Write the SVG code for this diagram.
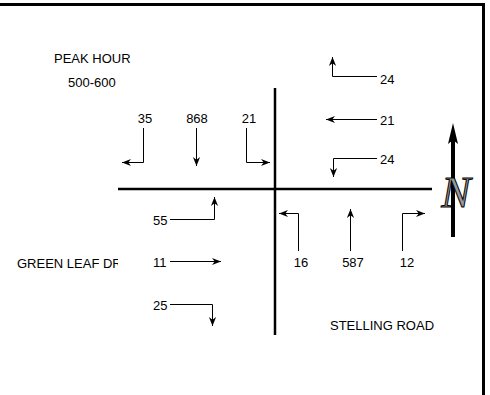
<svg xmlns="http://www.w3.org/2000/svg" width="490" height="395" viewBox="0 0 490 395">
<style>
text{font-family:"Liberation Sans",Arial,sans-serif;font-size:13px;fill:#000}
.m{text-anchor:middle}
.road{stroke:#000;stroke-width:2.5;fill:none}
.arr{stroke:#000;stroke-width:1;fill:none;marker-end:url(#ah)}
</style>
<defs>
<marker id="ah" viewBox="0 0 10 10" refX="10" refY="5" markerWidth="9" markerHeight="9" markerUnits="userSpaceOnUse" orient="auto">
<path d="M0,1 L10,5 L0,9 L3,5 z" fill="#000"/>
</marker>
<clipPath id="clipL"><rect x="0" y="240" width="118" height="40"/></clipPath>
</defs>
<rect width="490" height="395" fill="#fff"/>
<g id="frame">
<path d="M0,4.5 H483.5 V395" fill="none" stroke="#000" stroke-width="3"/>
</g>
<g id="title">
<text x="54" y="63">PEAK HOUR</text>
<text x="68" y="87">500-600</text>
</g>
<g id="roads">
<line class="road" x1="118" y1="189" x2="432" y2="189"/>
<line class="road" x1="275" y1="88" x2="275" y2="335"/>
</g>
<g id="labels">
<text x="17" y="268" clip-path="url(#clipL)">GREEN LEAF DR</text>
<text x="330" y="330">STELLING ROAD</text>
</g>
<g id="connectors">
<!-- southbound -->
<path class="arr" d="M143.5,128 V162.5 H122"/>
<path class="arr" d="M196.5,128 V166"/>
<path class="arr" d="M246.5,128 V162.5 H270"/>
<!-- westbound -->
<path class="arr" d="M377,76.5 H332.5 V57"/>
<path class="arr" d="M377,119.5 H326"/>
<path class="arr" d="M377,158.5 H333.5 V177"/>
<!-- eastbound -->
<path class="arr" d="M170,219.5 H214.5 V197"/>
<path class="arr" d="M170,261.5 H221"/>
<path class="arr" d="M170,304.5 H212.5 V326"/>
<!-- northbound -->
<path class="arr" d="M298.5,251 V213.5 H279"/>
<path class="arr" d="M350.5,251 V209"/>
<path class="arr" d="M402.5,251 V213.5 H425"/>
</g>
<g id="volumes">
<text class="m" x="145" y="123">35</text>
<text class="m" x="197" y="123">868</text>
<text class="m" x="249" y="123">21</text>
<text x="380" y="84">24</text>
<text x="380" y="125">21</text>
<text x="380" y="164">24</text>
<text x="153" y="225">55</text>
<text x="153" y="267">11</text>
<text x="153" y="310">25</text>
<text class="m" x="301" y="267">16</text>
<text class="m" x="353" y="267">587</text>
<text class="m" x="407" y="267">12</text>
</g>
<g id="north">
<line x1="453" y1="138" x2="453" y2="237" stroke="#000" stroke-width="4"/>
<path d="M453,123 L458,144 L453,140 L448,144 z" fill="#000"/>
<text x="456" y="207" text-anchor="middle" style="font-family:'Liberation Serif','Times New Roman',serif;font-style:italic;font-size:44px;fill:#999;stroke:#000;stroke-width:1">N</text>
</g>
</svg>
